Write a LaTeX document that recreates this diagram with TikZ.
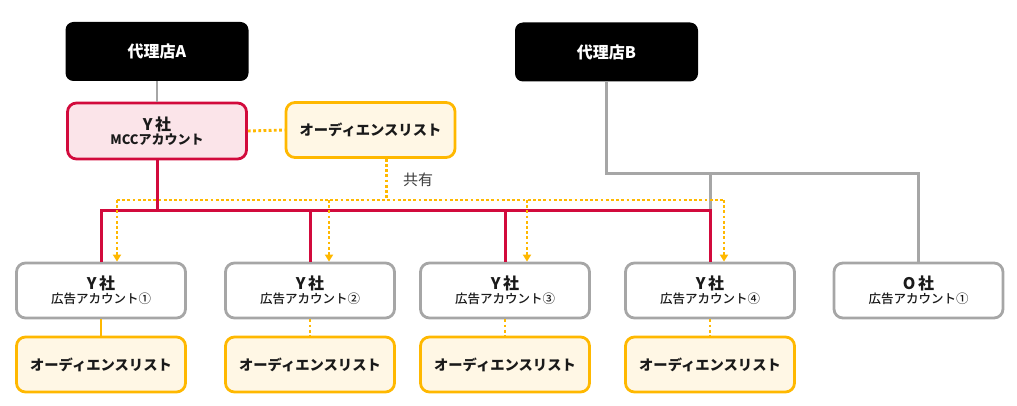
\documentclass[tikz,border=0pt]{standalone}
\usepackage{fontspec}
\setmainfont{Noto Sans CJK JP}
\newfontfamily\jpmed{Noto Sans CJK JP Medium}
\usetikzlibrary{arrows.meta,calc}
\definecolor{cred}{HTML}{D20A3C}
\definecolor{cpink}{HTML}{FBE4E9}
\definecolor{cgold}{HTML}{FFB800}
\definecolor{ccream}{HTML}{FFF7E5}
\definecolor{cgray}{HTML}{A6A6A6}
\definecolor{ctext}{HTML}{1A1A1A}
\tikzset{
  agency/.style={fill=black, rounded corners=8pt, minimum width=183pt, minimum height=59pt, text=white, font=\fontsize{16}{18}\selectfont\bfseries},
  mccbox/.style={draw=cred, fill=cpink, line width=2.8pt, rounded corners=9pt, minimum width=179pt, minimum height=56pt, align=center, text=ctext},
  audbox/.style={draw=cgold, fill=ccream, line width=2.8pt, rounded corners=9pt, minimum width=169pt, minimum height=55pt, text=ctext, font=\fontsize{14.3}{16}\selectfont\bfseries},
  accbox/.style={draw=cgray, fill=white, line width=2.8pt, rounded corners=9pt, minimum width=169pt, minimum height=55pt, align=center, text=ctext},
  grayline/.style={draw=cgray, line width=3pt},
  redline/.style={draw=cred, line width=3pt},
  goldline/.style={draw=cgold, line width=2.6pt},
  dotline/.style={draw=cgold, line width=2.9pt, dash pattern=on 2.8pt off 2.4pt},
  arr/.style={-{Triangle[width=8pt,length=7pt]}},
}
\newcommand{\twoline}[2]{{\fontsize{16}{17}\selectfont\bfseries #1}\\[1pt]{\fontsize{12.5}{14}\selectfont #2}}
\begin{document}
\begin{tikzpicture}[x=1pt,y=-1pt]
\useasboundingbox (0,0) rectangle (1017,406);
% agencies
\node[agency] (agA) at (157,51.5) {代理店A};
\node[agency] (agB) at (606.5,52) {代理店B};
% MCC and top audience list
\node[mccbox] (mcc) at (157,131) {\twoline{Y\,社}{\bfseries\fontsize{13}{14}\selectfont MCCアカウント}};
\node[audbox] (audT) at (370.5,130) {オーディエンスリスト};
% accounts
\node[accbox] (acc1) at (101,290.5) {\twoline{Y\,社}{\jpmed 広告アカウント①}};
\node[accbox] (acc2) at (310,290.5) {\twoline{Y\,社}{\jpmed 広告アカウント②}};
\node[accbox] (acc3) at (505,290.5) {\twoline{Y\,社}{\jpmed 広告アカウント③}};
\node[accbox] (acc4) at (710,290.5) {\twoline{Y\,社}{\jpmed 広告アカウント④}};
\node[accbox] (o1) at (918.5,290.5) {\twoline{O\,社}{\jpmed 広告アカウント①}};
% audience lists
\node[audbox] (aud1) at (101,364.5) {オーディエンスリスト};
\node[audbox] (aud2) at (310,364.5) {オーディエンスリスト};
\node[audbox] (aud3) at (505,364.5) {オーディエンスリスト};
\node[audbox] (aud4) at (710,364.5) {オーディエンスリスト};
% label
\node[text=ctext!85, font=\fontsize{15}{16}\selectfont] (share) at (418,180) {共有};
% helper levels
\coordinate (bus) at (0,211);
\coordinate (gB) at (0,174);
\coordinate (hz) at (0,200);
% gray lines
\draw[grayline, line width=2.2pt] (agA.south) -- (mcc.north);
\draw[grayline] (agB.south) -- (agB.south |- gB) -- (o1.north |- gB) -- (o1.north);
\draw[grayline] (acc4.north |- gB) -- (acc4.north);
% red tree
\draw[redline] (mcc.south) -- (mcc.south |- bus);
\draw[redline] (acc1.north) -- (acc1.north |- bus) -- (acc4.north |- bus) -- (acc4.north);
\draw[redline] (acc2.north |- bus) -- (acc2.north);
\draw[redline] (acc3.north |- bus) -- (acc3.north);
% dotted sharing lines
\draw[dotline] (mcc.east) -- (audT.west);
\draw[dotline] ([xshift=16pt]audT.south) -- ([xshift=16pt]audT.south |- hz);
\draw[dotline] ([xshift=16pt]acc1.north |- hz) -- ([xshift=14pt]acc4.north |- hz);
\draw[dotline, arr] ([xshift=16pt]acc1.north |- hz) -- ([xshift=16pt]acc1.north);
\draw[dotline, arr] ([xshift=19pt]acc2.north |- hz) -- ([xshift=19pt]acc2.north);
\draw[dotline, arr] ([xshift=22pt]acc3.north |- hz) -- ([xshift=22pt]acc3.north);
\draw[dotline, arr] ([xshift=14pt]acc4.north |- hz) -- ([xshift=14pt]acc4.north);
% account to audience list
\draw[goldline] (acc1.south) -- (aud1.north);
\draw[dotline] (acc2.south) -- (aud2.north);
\draw[dotline] (acc3.south) -- (aud3.north);
\draw[dotline] (acc4.south) -- (aud4.north);
\end{tikzpicture}
\end{document}
